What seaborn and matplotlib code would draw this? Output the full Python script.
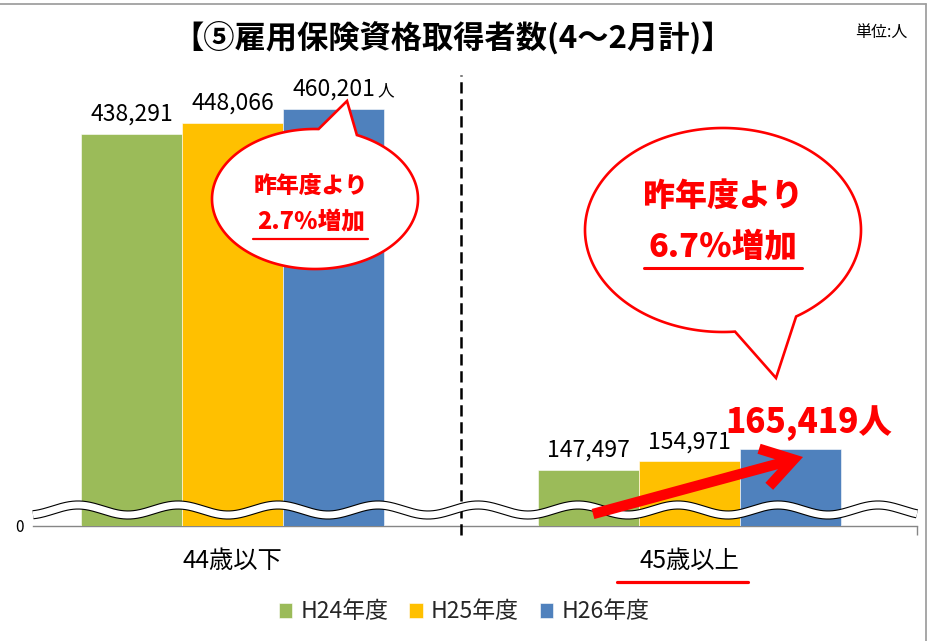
import numpy as np
import pandas as pd
import matplotlib
matplotlib.use("Agg")
import matplotlib.pyplot as plt
import seaborn as sns
from matplotlib.patches import Polygon
from matplotlib.lines import Line2D

# ---------------- data ----------------
groups = ["44歳以下", "45歳以上"]
years = ["H24年度", "H25年度", "H26年度"]
values_44 = [438291, 448066, 460201]
values_45 = [147497, 154971, 165419]
colors = ["#9BBB59", "#FFC000", "#4F81BD"]
title_text = "【⑤雇用保険資格取得者数(4～2月計)】"
unit_text = "単位:人"
zero_label = "0"
callout_left = ["昨年度より", "2.7％増加"]
callout_right = ["昨年度より", "6.7％増加"]
unit_suffix = "人"

df = pd.DataFrame({
    "group": [g for g in groups for _ in years],
    "year": years * len(groups),
    "value": values_44 + values_45,
})

W, H = 933, 641
sns.set_theme(style="white")
plt.rcParams['font.family'] = ['Noto Sans CJK JP', 'DejaVu Sans']

fig = plt.figure(figsize=(W / 100, H / 100), dpi=100)
fig.patch.set_facecolor("white")

def fx(x):
    return x / W

def fy(y):
    return 1 - y / H

ax_left, ax_right, ax_bottom, ax_top = 33, 917, 526, 70
ax = fig.add_axes([fx(ax_left), fy(ax_bottom), (ax_right - ax_left) / W, (ax_bottom - ax_top) / H])

sns.barplot(data=df, x="group", y="value", hue="year", hue_order=years,
            order=groups, palette=colors, width=0.663, saturation=1,
            edgecolor="white", linewidth=0.4, ax=ax, zorder=2)

xlo, xhi = -0.4365, 1.4978
ylo, yhi = 99000, 493600
ax.set_xlim(xlo, xhi)
ax.set_ylim(ylo, yhi)
ax.set_xlabel("")
ax.set_ylabel("")

for s in ["left", "top", "right"]:
    ax.spines[s].set_visible(False)
ax.spines["bottom"].set_color("#868686")
ax.spines["bottom"].set_linewidth(1.0)
ax.spines["bottom"].set_zorder(1)

ax.set_yticks([ylo])
ax.set_yticklabels([zero_label])
ax.tick_params(axis="y", length=0, pad=6.5, labelsize=11, labelcolor="black")
ax.tick_params(axis="x", which="major", length=0, pad=16, labelsize=17.5, labelcolor="black")
ax.set_xticks([xhi], minor=True)
ax.tick_params(axis="x", which="minor", bottom=True, length=6.5, width=1.0, color="#868686", direction="out")

# dashed separator
ax.axvline(0.5, ymin=-0.02, ymax=0.989, color="black", lw=1.8,
           dashes=(4.5, 2.3), clip_on=False, zorder=3)

# value labels
n_groups = len(groups)
for ci, cont in enumerate(ax.containers):
    for bi, bar in enumerate(cont):
        xc = bar.get_x() + bar.get_width() / 2
        h = bar.get_height()
        label = f"{h:,.0f}"
        if ci == len(years) - 1 and bi == n_groups - 1:
            ax.annotate(label + unit_suffix, (xc, h), xytext=(13.5, 12), textcoords="offset points",
                        ha="center", va="baseline", fontsize=24, fontweight="black",
                        color="#FF0000", zorder=8, annotation_clip=False)
        else:
            ax.annotate(label, (xc, h), xytext=(0, 9.4), textcoords="offset points",
                        ha="center", va="baseline", fontsize=16.5, color="black",
                        zorder=6, annotation_clip=False)
            if ci == len(years) - 1:
                ax.annotate(unit_suffix, (xc, h), xytext=(31.5, 9.4), textcoords="offset points",
                            ha="left", va="baseline", fontsize=12, color="black",
                            zorder=6, annotation_clip=False)

# wavy break band
px = np.linspace(ax_left, ax_right, 800)
xa = (px - ax_left) / (ax_right - ax_left)
ya = ((ax_bottom - 510) + 5 * np.cos(2 * np.pi * (px - 78) / 100)) / (ax_bottom - ax_top)
ax.plot(xa, ya, transform=ax.transAxes, color="black", lw=6.6, solid_capstyle="butt", zorder=4, clip_on=False)
ax.plot(xa, ya, transform=ax.transAxes, color="white", lw=5.0, solid_capstyle="butt", zorder=4.1, clip_on=False)

# red arrow
ax.annotate("", xy=(fx(803), fy(457)), xytext=(fx(593), fy(514)),
            xycoords="figure fraction", textcoords="figure fraction",
            arrowprops=dict(arrowstyle="->,head_length=0.55,head_width=0.35", lw=7.5,
                            color="#FF0000", mutation_scale=40, shrinkA=0, shrinkB=0,
                            capstyle="butt", joinstyle="miter"),
            zorder=9, annotation_clip=False)

# callouts
def callout(cx, cy, rx, ry, t_start, t_end, tip):
    ts = np.radians(np.linspace(t_start, t_end, 300))
    xs = cx + rx * np.cos(ts)
    ys = cy + ry * np.sin(ts)
    pts = [(fx(x), fy(y)) for x, y in zip(xs, ys)] + [(fx(tip[0]), fy(tip[1]))]
    poly = Polygon(pts, closed=True, transform=fig.transFigure, facecolor="white",
                   edgecolor="#FF0000", lw=1.9, zorder=10)
    fig.add_artist(poly)

callout(315, 199, 103, 70, -66, 272, (347, 101))
callout(723, 230, 138, 102, 85, 418, (776, 378))

fig.text(fx(311), fy(187), callout_left[0], ha="center", va="center", fontsize=16.5,
         fontweight="black", color="#FF0000", zorder=11)
fig.text(fx(311), fy(222), callout_left[1], ha="center", va="center", fontsize=17,
         fontweight="black", color="#FF0000", zorder=11)
fig.add_artist(Line2D([fx(253), fx(368)], [fy(239), fy(239)], transform=fig.transFigure,
                      color="#FF0000", lw=1.6, zorder=11))

fig.text(fx(723), fy(196), callout_right[0], ha="center", va="center", fontsize=23,
         fontweight="black", color="#FF0000", zorder=11)
fig.text(fx(723), fy(247), callout_right[1], ha="center", va="center", fontsize=23.5,
         fontweight="black", color="#FF0000", zorder=11)
fig.add_artist(Line2D([fx(644), fx(802)], [fy(268), fy(268)], transform=fig.transFigure,
                      color="#FF0000", lw=2.2, zorder=11))

# underline below 45歳以上
fig.add_artist(Line2D([fx(617), fx(748)], [fy(582), fy(582)], transform=fig.transFigure,
                      color="#FF0000", lw=2.3, zorder=11))

# title & unit
fig.text(fx(453), fy(38), title_text, ha="center", va="center", fontsize=22.5,
         fontweight="bold", color="black")
fig.text(fx(881), fy(32), unit_text, ha="center", va="center", fontsize=11.5, color="black")

# legend
sns.move_legend(ax, "center", bbox_to_anchor=(fx(464), fy(612)), bbox_transform=fig.transFigure,
                ncol=3, frameon=False, title=None, fontsize=16.5, handlelength=0.6,
                handleheight=0.6, columnspacing=0.9, handletextpad=0.35)

# outer frame (top and right)
fig.add_artist(Line2D([0, fx(926)], [fy(4), fy(4)], transform=fig.transFigure, color="#A0A0A0", lw=1.3))
fig.add_artist(Line2D([fx(926), fx(926)], [fy(4), 0], transform=fig.transFigure, color="#A0A0A0", lw=1.3))

fig.savefig("out.png", dpi=100)
